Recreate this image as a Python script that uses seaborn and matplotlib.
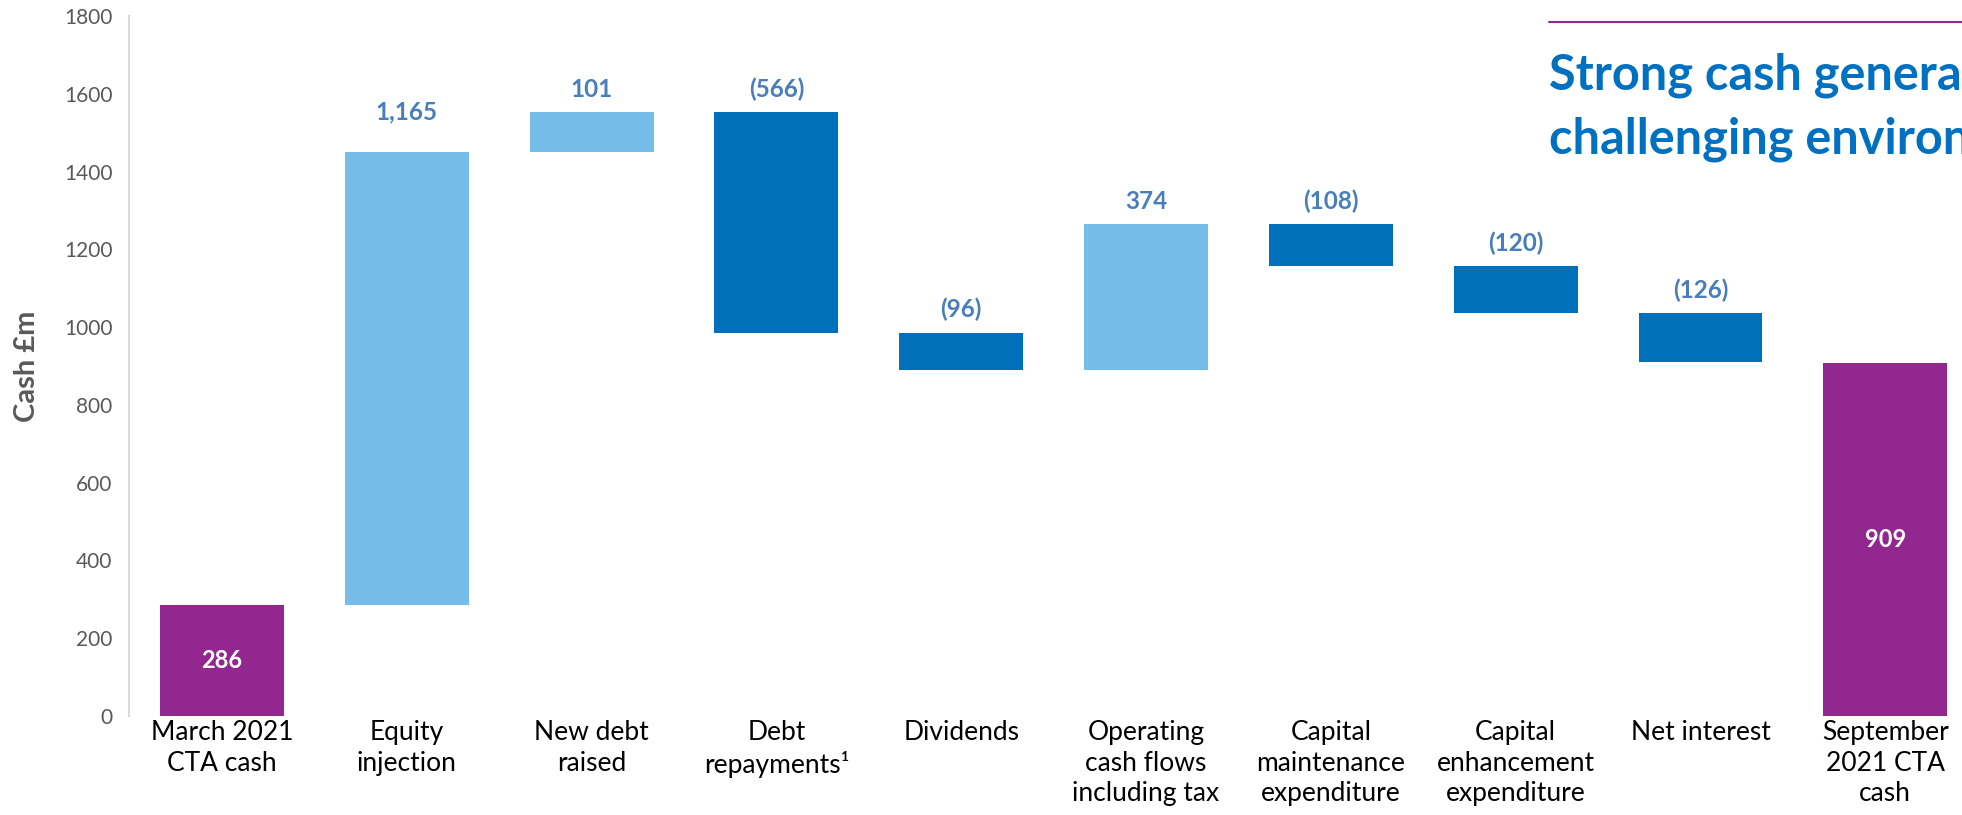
"""Waterfall of CTA cash movements, March to September 2021."""

import matplotlib

matplotlib.use("Agg")
import matplotlib.pyplot as plt
import pandas as pd
import seaborn as sns
from matplotlib.lines import Line2D

CATEGORIES = [
    "March 2021\nCTA cash",
    "Equity\ninjection",
    "New debt\nraised",
    "Debt\nrepayments\u00b9",
    "Dividends",
    "Operating\ncash flows\nincluding tax",
    "Capital\nmaintenance\nexpenditure",
    "Capital\nenhancement\nexpenditure",
    "Net interest",
    "September\n2021 CTA\ncash",
]
MOVEMENTS = [286, 1165, 101, -566, -96, 374, -108, -120, -126, 909]
KINDS = [
    "total", "increase", "increase", "decrease", "decrease",
    "increase", "decrease", "decrease", "decrease", "total",
]
VALUE_LABELS = ["286", "1,165", "101", "(566)", "(96)", "374", "(108)",
                "(120)", "(126)", "909"]
Y_TICKS = [0, 200, 400, 600, 800, 1000, 1200, 1400, 1600, 1800]
Y_LABEL = "Cash \u00a3m"
TITLE_LINES = ["Strong cash generation in a", "challenging environment"]

COLOURS = {"total": "#92278F", "increase": "#75BDE8", "decrease": "#0070BA"}
LABEL_BLUE = "#4A7EBB"
TITLE_BLUE = "#0070C0"
GREY = "#595959"


def waterfall_frame() -> pd.DataFrame:
    """Turn the movements into floating bar bases and heights."""
    bases, heights = [], []
    running = 0
    for move, kind in zip(MOVEMENTS, KINDS):
        if kind == "total":
            bases.append(0)
            heights.append(move)
            running = move
        elif move >= 0:
            bases.append(running)
            heights.append(move)
            running += move
        else:
            running += move
            bases.append(running)
            heights.append(-move)
    return pd.DataFrame(
        {"step": CATEGORIES, "base": bases, "height": heights, "kind": KINDS,
         "label": VALUE_LABELS}
    )


def main() -> None:
    sns.set_theme(style="white")
    plt.rcParams["font.family"] = ["Lato", "DejaVu Sans"]

    frame = waterfall_frame()
    fig = plt.figure(figsize=(19.62, 8.15), dpi=100)
    ax = fig.add_axes([129 / 1962, 99 / 815, 1 - 129 / 1962, 700 / 815])

    sns.barplot(
        data=frame,
        x="step",
        y="height",
        bottom=frame["base"].to_numpy(),
        width=0.67,
        color=COLOURS["total"],
        saturation=1,
        linewidth=0,
        ax=ax,
    )
    for patch, kind in zip(ax.patches, frame["kind"]):
        patch.set_facecolor(COLOURS[kind])

    # label pads in points above the bar top; 1,165 sits higher in the original
    raised = {"1,165": 29}
    for i, row in frame.iterrows():
        if row["kind"] == "total":
            ax.text(i, row["base"] + row["height"] / 2, row["label"],
                    ha="center", va="center", color="white",
                    fontsize=17, fontweight="bold")
        else:
            ax.annotate(row["label"], (i, row["base"] + row["height"]),
                        xytext=(0, raised.get(row["label"], 16.5)),
                        textcoords="offset points", ha="center", va="center",
                        color=LABEL_BLUE, fontsize=17.5, fontweight="bold")

    ax.set_xlim(-0.503, 9.415)
    ax.set_ylim(0, 1800)
    ax.set_yticks(Y_TICKS)
    ax.set_xlabel("")
    ax.set_ylabel(Y_LABEL, fontsize=21, fontweight="bold", color=GREY,
                  va="center")
    ax.yaxis.set_label_coords((27 - 129) / 1833, 0.5)
    ax.tick_params(axis="y", length=0, labelsize=15, labelcolor=GREY, pad=12)
    ax.tick_params(axis="x", length=0, labelsize=19, labelcolor="black", pad=3)
    for tick_label in ax.get_xticklabels():
        tick_label.set_linespacing(1.28)
    for side in ("top", "right", "bottom"):
        ax.spines[side].set_visible(False)
    ax.spines["left"].set_color("#D9D9D9")
    ax.spines["left"].set_linewidth(1.5)

    # slide header cropped at the right edge
    fig.add_artist(Line2D([1549 / 1962, 1.0], [1 - 22 / 815] * 2,
                          color=COLOURS["total"], linewidth=1.5))
    for line, baseline in zip(TITLE_LINES, (90, 153)):
        fig.text(1549 / 1962, 1 - baseline / 815, line, ha="left",
                 va="baseline", color=TITLE_BLUE, fontsize=35,
                 fontweight="bold")

    fig.savefig("out.png", dpi=100)
    plt.close(fig)


if __name__ == "__main__":
    main()
